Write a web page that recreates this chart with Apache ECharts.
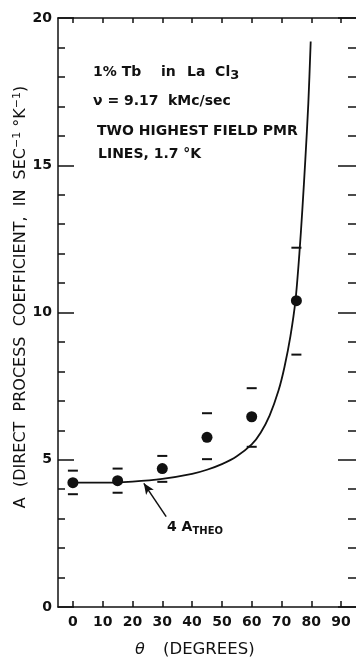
<!DOCTYPE html>
<html>
<head>
<meta charset="utf-8">
<script src="https://cdn.jsdelivr.net/npm/echarts@6/dist/echarts.min.js"></script>
<style>
html,body{margin:0;padding:0;background:#fff;}
#chart{width:356px;height:658px;}
</style>
</head>
<body>
<div id="chart"></div>
<script>
// ---- data ----
const thetaMeas = [0, 15, 30, 45, 60, 75];
const aMeas     = [4.22, 4.29, 4.70, 5.76, 6.46, 10.40];
const aUpper    = [4.63, 4.70, 5.13, 6.58, 7.43, 12.20];
const aLower    = [3.83, 3.88, 4.25, 5.02, 5.44, 8.57];

const thetaTheo = [0, 10, 20, 30, 40, 45, 50, 55, 60, 63, 66, 69, 71, 73, 74.7, 76, 77, 78, 79, 79.8];
const aTheo     = [4.22, 4.22, 4.26, 4.35, 4.52, 4.66, 4.85, 5.12, 5.52, 5.92, 6.50, 7.35, 8.15, 9.20, 10.42, 12.0, 13.5, 15.2, 17.1, 19.2];

const xTicks = [0, 10, 20, 30, 40, 50, 60, 70, 80, 90];
const yTicks = [0, 5, 10, 15, 20];

const arrowTail = [31.3, 3.07];
const arrowHead = [23.8, 4.20];

// ---- chart ----
const FONT = 'DejaVu Sans';
const INK = '#111';
const chart = echarts.init(document.getElementById('chart'), null, {renderer: 'canvas'});

const pair = (xs, ys) => xs.map((x, i) => [x, ys[i]]);

const axisCommonX = {
  type: 'value', min: -5, max: 95,
  axisLine: {show: true, onZero: false, lineStyle: {color: INK, width: 1.5}},
  splitLine: {show: false}
};
const axisCommonY = {
  type: 'value', min: 0, max: 20, interval: 5,
  axisLine: {show: true, onZero: false, lineStyle: {color: INK, width: 1.5}},
  splitLine: {show: false}, minorSplitLine: {show: false}
};

chart.setOption({
  animation: false,
  backgroundColor: '#fff',
  grid: {left: 58, top: 18, width: 300, height: 589, containLabel: false},
  xAxis: [
    Object.assign({}, axisCommonX, {
      position: 'bottom',
      axisTick: {show: true, inside: true, length: 6, customValues: xTicks, lineStyle: {color: INK, width: 1.5}},
      axisLabel: {show: true, customValues: xTicks, margin: 8, color: INK, fontFamily: FONT, fontSize: 14, fontWeight: 'bold'}
    }),
    Object.assign({}, axisCommonX, {
      position: 'top',
      axisTick: {show: true, inside: true, length: 5, customValues: xTicks, lineStyle: {color: INK, width: 1.5}},
      axisLabel: {show: false}
    })
  ],
  yAxis: [
    Object.assign({}, axisCommonY, {
      position: 'left',
      axisTick: {show: true, inside: true, length: 16, lineStyle: {color: INK, width: 1.5}},
      minorTick: {show: true, splitNumber: 5, length: 7, lineStyle: {color: INK, width: 1.5}},
      axisLabel: {show: true, margin: 6, color: INK, fontFamily: FONT, fontSize: 14, fontWeight: 'bold',
        customValues: yTicks}
    }),
    Object.assign({}, axisCommonY, {
      position: 'right',
      axisLine: {show: false, onZero: false},
      axisTick: {show: true, inside: true, length: 18, lineStyle: {color: INK, width: 1.5}},
      minorTick: {show: true, splitNumber: 5, length: 8, lineStyle: {color: INK, width: 1.5}},
      axisLabel: {show: false}
    })
  ],
  series: [
    {
      type: 'line', name: '4 A theo', data: pair(thetaTheo, aTheo),
      smooth: 0.3, showSymbol: false, symbol: 'none',
      lineStyle: {color: INK, width: 1.8}, z: 3,
      markLine: {
        silent: true, animation: false,
        symbol: ['none', 'arrow'], symbolSize: [7, 11],
        lineStyle: {color: INK, width: 1.5, type: 'solid'},
        label: {show: false},
        data: [[{coord: arrowTail}, {coord: arrowHead}]]
      }
    },
    {
      type: 'scatter', name: 'measured', data: pair(thetaMeas, aMeas),
      symbol: 'circle', symbolSize: 11, itemStyle: {color: INK, opacity: 1}, z: 4
    },
    {
      type: 'scatter', name: 'upper', data: pair(thetaMeas, aUpper),
      symbol: 'rect', symbolSize: [10, 2], itemStyle: {color: INK, opacity: 1}, z: 4
    },
    {
      type: 'scatter', name: 'lower', data: pair(thetaMeas, aLower),
      symbol: 'rect', symbolSize: [10, 2], itemStyle: {color: INK, opacity: 1}, z: 4
    }
  ],
  graphic: [
    // y-axis title
    {
      type: 'text', x: 21, y: 297, rotation: Math.PI / 2,
      style: {
        text: 'A  (DIRECT  PROCESS  COEFFICIENT,  IN  SEC{sup|−1} °K{sup|−1})',
        fill: INK, font: '16px "DejaVu Sans"', align: 'center', verticalAlign: 'middle',
        rich: {sup: {fontSize: 11, fontFamily: FONT, fill: INK, padding: [0, 0, 8, 0]}}
      }
    },
    // x-axis title
    {
      type: 'text', x: 135, y: 650,
      style: {text: 'θ', fill: INK, font: 'italic 16px "DejaVu Sans"', align: 'left', verticalAlign: 'middle'}
    },
    {
      type: 'text', x: 163, y: 650,
      style: {text: '(DEGREES)', fill: INK, font: '16.5px "DejaVu Sans"', align: 'left', verticalAlign: 'middle'}
    },
    // annotation block
    {
      type: 'text', x: 93, y: 72,
      style: {text: '1% Tb', fill: INK, font: 'bold 14px "DejaVu Sans"', align: 'left', verticalAlign: 'middle'}
    },
    {
      type: 'text', x: 161, y: 72,
      style: {text: 'in', fill: INK, font: 'bold 14px "DejaVu Sans"', align: 'left', verticalAlign: 'middle'}
    },
    {
      type: 'text', x: 187, y: 72,
      style: {text: 'La  Cl{sub|3}', fill: INK, font: 'bold 14px "DejaVu Sans"', align: 'left', verticalAlign: 'middle',
        rich: {sub: {fontSize: 13, fontWeight: 'bold', fontFamily: FONT, fill: INK, padding: [8, 0, 0, 0]}}}
    },
    {
      type: 'text', x: 93, y: 101,
      style: {text: 'ν = 9.17', fill: INK, font: 'bold 14px "DejaVu Sans"', align: 'left', verticalAlign: 'middle'}
    },
    {
      type: 'text', x: 168, y: 101,
      style: {text: 'kMc/sec', fill: INK, font: 'bold 14px "DejaVu Sans"', align: 'left', verticalAlign: 'middle'}
    },
    {
      type: 'text', x: 97, y: 131,
      style: {text: 'TWO HIGHEST FIELD PMR', fill: INK, font: 'bold 14px "DejaVu Sans"', align: 'left', verticalAlign: 'middle'}
    },
    {
      type: 'text', x: 98, y: 154,
      style: {text: 'LINES, 1.7 °K', fill: INK, font: 'bold 14px "DejaVu Sans"', align: 'left', verticalAlign: 'middle'}
    },
    // 4 A_THEO label
    {
      type: 'text', x: 167, y: 527,
      style: {text: '4 A{sub|THEO}', fill: INK, font: 'bold 14px "DejaVu Sans"', align: 'left', verticalAlign: 'middle',
        rich: {sub: {fontSize: 10, fontWeight: 'bold', fontFamily: FONT, fill: INK, padding: [9, 0, 0, 0]}}}
    }
  ]
});
</script>
</body>
</html>
